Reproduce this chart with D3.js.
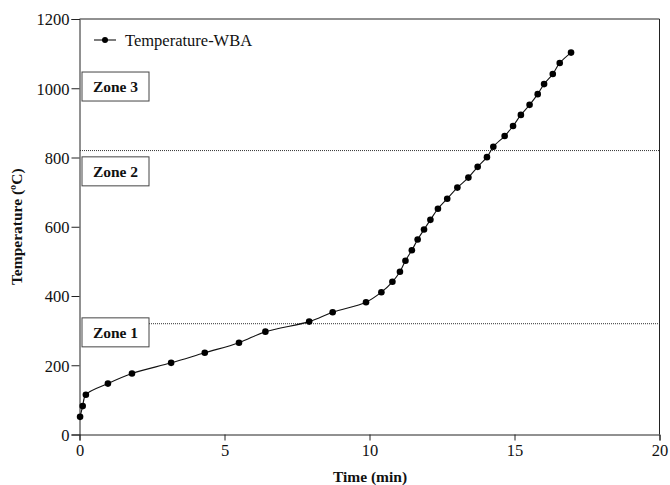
<!DOCTYPE html>
<html>
<head>
<meta charset="utf-8">
<script src="https://cdn.jsdelivr.net/npm/d3@7"></script>
<style>
  html, body { margin: 0; padding: 0; background: #fff; }
  svg text { font-family: "Liberation Serif", "Times New Roman", serif; fill: #111; }
</style>
</head>
<body>
<svg id="chart" width="670" height="485"></svg>
<script>
// Furnace temperature record, time in minutes vs temperature in °C
const timeMin = [0.02, 0.11, 0.22, 0.98, 1.81, 3.16, 4.32, 5.5, 6.41, 7.92, 8.73, 9.88,
  10.41, 10.79, 11.05, 11.24, 11.46, 11.66, 11.88, 12.1, 12.36, 12.68, 13.03, 13.41,
  13.73, 14.05, 14.27, 14.66, 14.95, 15.22, 15.52, 15.8, 16.02, 16.32, 16.56, 16.95];
const tempWBA = [51, 82, 115, 147, 176, 207, 236, 265, 297, 326, 353, 382,
  411, 441, 470, 502, 532, 563, 592, 620, 652, 681, 713, 742,
  773, 801, 831, 862, 891, 923, 952, 983, 1012, 1041, 1073, 1103];
const seriesName = "Temperature-WBA";
const zoneLimits = [320, 820];
const zoneNames = ["Zone 1", "Zone 2", "Zone 3"];
const zoneLabelTemps = [295, 760, 1005];
const xTicks = [0, 5, 10, 15, 20];
const yTicks = [0, 200, 400, 600, 800, 1000, 1200];

const svg = d3.select("#chart");
const m = { left: 79.5, right: 659.5, top: 19, bottom: 434.5 };

const x = d3.scaleLinear().domain([0, 20]).range([m.left, m.right]);
const y = d3.scaleLinear().domain([0, 1200]).range([m.bottom, m.top]);

// frame (top and right edges)
svg.append("path")
  .attr("d", `M${m.left},${m.top}H${m.right}V${m.bottom}`)
  .attr("fill", "none").attr("stroke", "#222").attr("stroke-width", 1);

// axes
const xAxis = svg.append("g").attr("transform", `translate(0,${m.bottom})`)
  .call(d3.axisBottom(x).tickValues(xTicks).tickFormat(d3.format("d")).tickSize(6).tickPadding(4));
const yAxis = svg.append("g").attr("transform", `translate(${m.left},0)`)
  .call(d3.axisLeft(y).tickValues(yTicks).tickFormat(d3.format("d")).tickSize(8).tickPadding(2));
[xAxis, yAxis].forEach(g => {
  g.select(".domain").attr("stroke", "#222");
  g.selectAll(".tick line").attr("stroke", "#222");
  g.selectAll(".tick text").attr("font-size", 16.5)
    .attr("font-family", "Liberation Serif, serif").attr("fill", "#111");
});
yAxis.selectAll(".tick text").attr("dy", "0.35em");

// zone boundaries
svg.append("g").selectAll("line").data(zoneLimits).join("line")
  .attr("x1", (d, i) => i === 0 ? 87 : 80).attr("x2", m.right)
  .attr("y1", d => y(d)).attr("y2", d => y(d))
  .attr("stroke", "#333").attr("stroke-width", 1).attr("stroke-dasharray", "1,1");

// zone labels
const zg = svg.append("g").selectAll("g").data(zoneNames).join("g")
  .attr("transform", (d, i) => `translate(82,${y(zoneLabelTemps[i]) - 14.5})`);
zg.append("rect").attr("width", 67).attr("height", 29)
  .attr("fill", "#fff").attr("stroke", "#444").attr("stroke-width", 1);
zg.append("text").attr("x", 33.5).attr("y", 20).attr("text-anchor", "middle")
  .attr("font-size", 15.5).attr("font-weight", "bold").text(d => d);

// series
const pts = timeMin.map((t, i) => [t, tempWBA[i]]);
svg.append("path").datum(pts)
  .attr("d", d3.line().x(d => x(d[0])).y(d => y(d[1])).curve(d3.curveCatmullRom.alpha(0.5)))
  .attr("fill", "none").attr("stroke", "#111").attr("stroke-width", 1.1);
svg.append("g").selectAll("circle").data(pts).join("circle")
  .attr("cx", d => x(d[0])).attr("cy", d => y(d[1])).attr("r", 3.3).attr("fill", "#000");

// legend
const lg = svg.append("g").attr("transform", "translate(94,40)");
lg.append("line").attr("x1", 0).attr("x2", 22).attr("stroke", "#111").attr("stroke-width", 1.1);
lg.append("circle").attr("cx", 11).attr("r", 3).attr("fill", "#000");
lg.append("text").attr("x", 31).attr("y", 6).attr("font-size", 16.5).text(seriesName);

// axis titles
svg.append("text").attr("x", (m.left + m.right) / 2 + 0.5).attr("y", 482)
  .attr("text-anchor", "middle").attr("font-size", 15.5).attr("font-weight", "bold")
  .text("Time (min)");
svg.append("text").attr("transform", `translate(22,${(m.top + m.bottom) / 2}) rotate(-90)`)
  .attr("text-anchor", "middle").attr("font-size", 15.5).attr("font-weight", "bold")
  .text("Temperature (ºC)");
</script>
</body>
</html>
